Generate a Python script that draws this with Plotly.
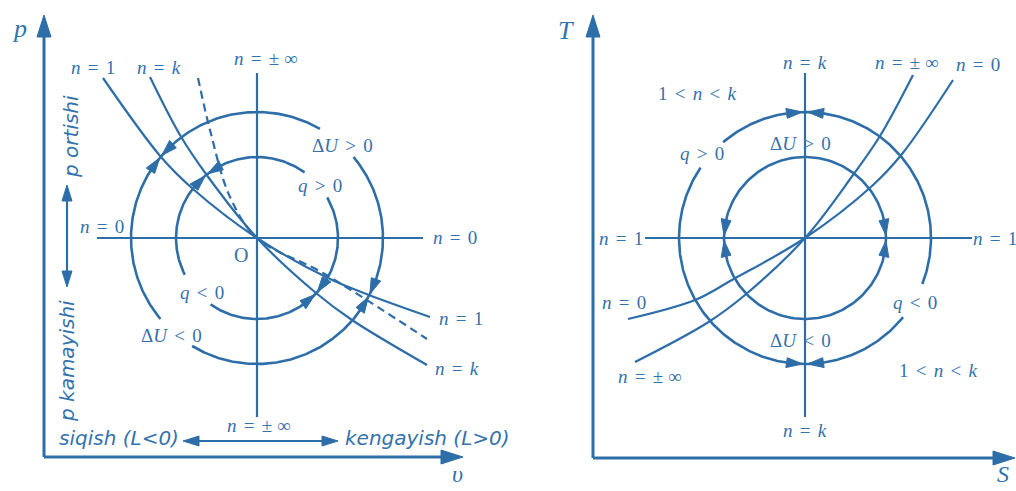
import numpy as np
import plotly.graph_objects as go

LINE = "#2e6ea8"
INK = "#3472ab"
SERIF = "Liberation Serif"
SANS = "DejaVu Sans"

# ---------------- p–v diagram (coordinates relative to point O, y up) -------------
PV_R_INNER = 81
PV_R_OUTER = 126
# polytropes through O
pv_n1_x = [-154, -96, -64, 0, 71, 112, 173]
pv_n1_y = [160, 81, 49, 0, -40, -57, -79]
pv_nk_x = [-107, -77, -51, 0, 59, 95, 170]
pv_nk_y = [161, 103, 64, 0, -55, -82, -127]
pv_dash_x = [-59, -47, -27, 0, 66, 170]
pv_dash_y = [160, 108, 41, 0, -35, -101]
# visible spans of the two circles (degrees)
pv_outer_arcs = [(60, 220), (239, 400)]
pv_inner_arcs = [(54, 207), (235, 390)]
# arrow pairs meeting on a circle: (radius, meeting angle)
pv_heads = [(PV_R_OUTER, 139.8), (PV_R_INNER, 128.7), (PV_R_INNER, -43.1), (PV_R_OUTER, -27.1)]
# axes: origin and arrow tips
pv_axis_origin = (-213, -219)
pv_axis_tip_p = 223
pv_axis_tip_v = 206
# centre cross through O
pv_cross_v = (-179, 165)
pv_cross_h = (-160, 166)

# ---------------- T–s diagram (coordinates relative to its centre) ----------------
TS_R_INNER = 81
TS_R_OUTER = 126
ts_n0_x = [-177, -110, -73, 0, 67, 97, 148]
ts_n0_y = [-81, -62, -42, 0, 52, 84, 158]
ts_ninf_x = [-170, -98, -60, 0, 48, 75, 108]
ts_ninf_y = [-124, -85, -57, 0, 63, 102, 163]
ts_outer_arcs = [(-21.4, 130.5), (146, 321.1)]
ts_inner_arcs = [(0, 360)]
ts_heads = [(TS_R_OUTER, 90), (TS_R_OUTER, 270), (TS_R_INNER, 0), (TS_R_INNER, 180)]
ts_axis_origin = (-212, -220)
ts_axis_tip_T = 223
ts_axis_tip_s = 210
ts_cross_v = (-179, 165)
ts_cross_h = (-160, 167)


def arc_pts(r, a0, a1):
    t = np.radians(np.linspace(a0, a1, 240))
    return r * np.cos(t), r * np.sin(t)


def arc_head(r, meet_deg, sense, gap=1.5, length=16, half=5):
    tip = np.radians(meet_deg) - sense * gap / r
    base = tip - sense * length / r
    tx, ty = r * np.cos(tip), r * np.sin(tip)
    bx, by = r * np.cos(base), r * np.sin(base)
    nx, ny = np.cos(base), np.sin(base)
    return [tx, bx + half * nx, bx - half * nx, tx], [ty, by + half * ny, by - half * ny, ty]


def line_head(tx, ty, dx, dy, length, half):
    bx, by = tx - dx * length, ty - dy * length
    nx, ny = -dy, dx
    return [tx, bx + half * nx, bx - half * nx, tx], [ty, by + half * ny, by - half * ny, ty]


fig = go.Figure()


def add_line(xs, ys, ax, width=2.2, dash=None, spline=False):
    fig.add_trace(go.Scatter(
        x=list(xs), y=list(ys), mode="lines", xaxis="x" + ax, yaxis="y" + ax,
        line=dict(color=LINE, width=width, dash=dash, shape="spline" if spline else "linear",
                  smoothing=1.0),
        hoverinfo="skip", showlegend=False))


def add_head(pts, ax):
    xs, ys = pts
    fig.add_trace(go.Scatter(
        x=xs, y=ys, mode="lines", fill="toself", fillcolor=LINE, xaxis="x" + ax, yaxis="y" + ax,
        line=dict(color=LINE, width=1), hoverinfo="skip", showlegend=False))


# ---- p–v panel ----
A = ""
for a0, a1 in pv_outer_arcs:
    add_line(*arc_pts(PV_R_OUTER, a0, a1), A, width=2.6)
for a0, a1 in pv_inner_arcs:
    add_line(*arc_pts(PV_R_INNER, a0, a1), A, width=2.6)
add_line(pv_n1_x, pv_n1_y, A, width=2.2, spline=True)
add_line(pv_nk_x, pv_nk_y, A, width=2.2, spline=True)
add_line(pv_dash_x, pv_dash_y, A, width=2.2, dash="8px,5px", spline=True)
for r, m in pv_heads:
    add_head(arc_head(r, m, +1), A)
    add_head(arc_head(r, m, -1), A)
ox, oy = pv_axis_origin
add_line([ox, ox], [oy, pv_axis_tip_p - 10], A, width=3)
add_line([ox, pv_axis_tip_v - 10], [oy, oy], A, width=3)
add_head(line_head(ox, pv_axis_tip_p, 0, 1, 22, 7), A)
add_head(line_head(pv_axis_tip_v, oy, 1, 0, 22, 7), A)
add_line([0, 0], pv_cross_v, A, width=2.2)
add_line(pv_cross_h, [0, 0], A, width=2.2)
# direction arrows beside the axes
add_line([-190, -190], [43, -39], A, width=2.2)
add_head(line_head(-190, 53, 0, 1, 16, 5), A)
add_head(line_head(-190, -49, 0, -1, 16, 5), A)
add_line([-64, 71], [-203, -203], A, width=2.2)
add_head(line_head(-74, -203, -1, 0, 16, 5), A)
add_head(line_head(81, -203, 1, 0, 16, 5), A)

# ---- T–s panel ----
B = "2"
for a0, a1 in ts_outer_arcs:
    add_line(*arc_pts(TS_R_OUTER, a0, a1), B, width=2.6)
for a0, a1 in ts_inner_arcs:
    add_line(*arc_pts(TS_R_INNER, a0, a1), B, width=2.6)
add_line(ts_n0_x, ts_n0_y, B, width=2.2, spline=True)
add_line(ts_ninf_x, ts_ninf_y, B, width=2.2, spline=True)
for r, m in ts_heads:
    add_head(arc_head(r, m, +1, gap=2.5), B)
    add_head(arc_head(r, m, -1, gap=2.5), B)
ox, oy = ts_axis_origin
add_line([ox, ox], [oy, ts_axis_tip_T - 10], B, width=3)
add_line([ox, ts_axis_tip_s - 10], [oy, oy], B, width=3)
add_head(line_head(ox, ts_axis_tip_T, 0, 1, 22, 7), B)
add_head(line_head(ts_axis_tip_s, oy, 1, 0, 22, 7), B)
add_line([0, 0], ts_cross_v, B, width=2.2)
add_line(ts_cross_h, [0, 0], B, width=2.2)

# ---------------- labels ----------------
def label(txt, x, y, ax, size=19, family=SERIF, xanchor="center", angle=0):
    fig.add_annotation(text=txt, x=x, y=y, xref="x" + ax, yref="y" + ax, showarrow=False,
                       xanchor=xanchor, yanchor="middle", textangle=angle,
                       font=dict(family=family, size=size, color=INK))


# slightly widened gap around relation signs
GAP = "\u00a0<span style='font-size:10px'>\u00a0</span>"
n = "<i>n</i>"
EQ = GAP + "=" + GAP
LT = GAP + "<" + GAP
GT = GAP + ">" + GAP

label("<i>p</i>", -238, 210, A, size=26)
label("<i>υ</i>", 200, -236, A, size=24)
label(n + EQ + "1", -164, 171, A)
label(n + EQ + "<i>k</i>", -98, 171, A)
label(n + EQ + "± ∞", 8, 180, A)
label(n + EQ + "0", -155, 12, A)
label(n + EQ + "0", 198, 1, A)
label("Δ<i>U</i>" + GT + "0", 85, 93, A)
label("<i>q</i>" + GT + "0", 63, 53, A)
label("O", -16, -17, A, size=20)
label("<i>q</i>" + LT + "0", -55, -54, A)
label("Δ<i>U</i>" + LT + "0", -86, -97, A)
label(n + EQ + "1", 204, -80, A)
label(n + EQ + "<i>k</i>", 200, -130, A)
label(n + EQ + "± ∞", 1, -187, A)
label("<i>p ortishi</i>", -186, 101, A, size=20, family=SANS, angle=-90)
label("<i>p kamayishi</i>", -190, -123, A, size=20, family=SANS, angle=-90)
label("<i>siqish (L&lt;0)</i>", -200, -200, A, size=20, family=SANS, xanchor="left")
label("<i>kengayish (L&gt;0)</i>", 86, -200, A, size=20, family=SANS, xanchor="left")

label("<i>T</i>", -239, 208, B, size=26)
label("<i>S</i>", 198, -236, B, size=24)
label(n + EQ + "<i>k</i>", 0, 176, B)
label(n + EQ + "± ∞", 101, 176, B)
label(n + EQ + "0", 173, 174, B)
label("1" + LT + n + LT + "<i>k</i>", -108, 145, B)
label("<i>q</i>" + GT + "0", -103, 85, B)
label("Δ<i>U</i>" + GT + "0", -5, 95, B)
label(n + EQ + "1", -184, 0, B)
label(n + EQ + "1", 166, 0, B, xanchor="left")
label(n + EQ + "0", -181, -64, B)
label(n + EQ + "± ∞", -156, -138, B)
label("Δ<i>U</i>" + LT + "0", -5, -102, B)
label("<i>q</i>" + LT + "0", 110, -64, B)
label("1" + LT + n + LT + "<i>k</i>", 133, -132, B)
label(n + EQ + "<i>k</i>", 0, -192, B)

hidden = dict(visible=False, fixedrange=True, showgrid=False, zeroline=False)
fig.update_layout(
    width=1016, height=491, autosize=False,
    margin=dict(l=0, r=0, t=0, b=0),
    paper_bgcolor="white", plot_bgcolor="white",
    showlegend=False,
    xaxis=dict(domain=[0, 0.5], range=[-257, 251], **hidden),
    yaxis=dict(domain=[0, 1], range=[-253, 238], **hidden),
    xaxis2=dict(domain=[0.5, 1], range=[-297, 211], **hidden),
    yaxis2=dict(domain=[0, 1], range=[-253, 238], anchor="x2", **hidden),
)
fig.write_html("out.html")
